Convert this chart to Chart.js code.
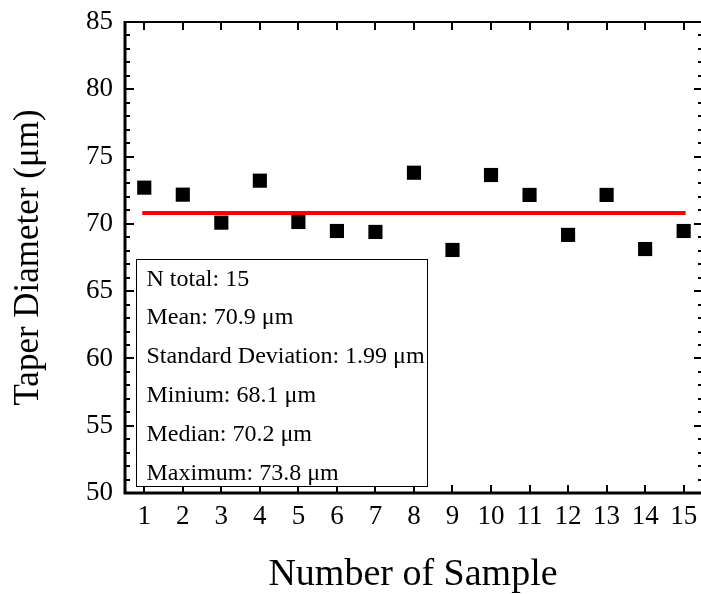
<!DOCTYPE html>
<html>
<head>
<meta charset="utf-8">
<script src="https://cdn.jsdelivr.net/npm/chart.js@4.4.1/dist/chart.umd.min.js"></script>
<style>
    html, body { margin: 0; padding: 0; background: #ffffff; }
    #wrap { width: 701px; height: 594px; }
</style>
</head>
<body>
<div id="wrap"><canvas id="taperChart" width="701" height="594"></canvas></div>
<script>
// sample number vs measured taper diameter (um)
const samples = [1, 2, 3, 4, 5, 6, 7, 8, 9, 10, 11, 12, 13, 14, 15];
const diameters = [72.69, 72.17, 70.09, 73.21, 70.14, 69.47, 69.40, 73.80, 68.06, 73.63, 72.15, 69.18, 72.15, 68.13, 69.47];

// red reference line
const meanLineX = [1, 15];
const meanLineY = 70.8;

const yTicks = [50, 55, 60, 65, 70, 75, 80, 85];
const yMinorTicks = [51, 52, 53, 54, 56, 57, 58, 59, 61, 62, 63, 64, 66, 67, 68, 69, 71, 72, 73, 74, 76, 77, 78, 79, 81, 82, 83, 84];

const statsLines = [
    "N total: 15",
    "Mean: 70.9 \u03bcm",
    "Standard Deviation: 1.99 \u03bcm",
    "Minium: 68.1 \u03bcm",
    "Median: 70.2 \u03bcm",
    "Maximum: 73.8 \u03bcm"
];

const FONT = "'Liberation Serif', 'Times New Roman', serif";

// frame, inward ticks and the statistics box
const framePlugin = {
    id: "frame",
    afterDraw(chart) {
        const ctx = chart.ctx;
        const area = chart.chartArea;
        const xs = chart.scales.x;
        const ys = chart.scales.y;
        ctx.save();
        ctx.strokeStyle = "#000";
        ctx.lineCap = "butt";

        // axis lines
        ctx.lineWidth = 3;
        ctx.beginPath();
        ctx.moveTo(area.left, area.top - 1);
        ctx.lineTo(area.left, area.bottom);
        ctx.lineTo(area.right, area.bottom);
        ctx.stroke();
        ctx.lineWidth = 2;
        ctx.beginPath();
        ctx.moveTo(area.left, area.top);
        ctx.lineTo(area.right, area.top);
        ctx.stroke();

        // x ticks, bottom and top
        ctx.lineWidth = 2;
        samples.forEach(v => {
            const px = Math.round(xs.getPixelForValue(v));
            ctx.beginPath();
            ctx.moveTo(px, area.bottom);
            ctx.lineTo(px, area.bottom - 8);
            ctx.moveTo(px, area.top);
            ctx.lineTo(px, area.top + 8);
            ctx.stroke();
        });

        // y ticks, left and right
        const rightEdge = area.right + 2;
        yTicks.forEach(v => {
            const py = Math.round(ys.getPixelForValue(v));
            ctx.beginPath();
            ctx.moveTo(area.left, py);
            ctx.lineTo(area.left + 9, py);
            ctx.moveTo(rightEdge, py);
            ctx.lineTo(rightEdge - 9, py);
            ctx.stroke();
        });
        yMinorTicks.forEach(v => {
            const py = Math.round(ys.getPixelForValue(v));
            ctx.beginPath();
            ctx.moveTo(area.left, py);
            ctx.lineTo(area.left + 5, py);
            ctx.moveTo(rightEdge, py);
            ctx.lineTo(rightEdge - 5, py);
            ctx.stroke();
        });

        // stats box
        const bx = area.left + 11.5, by = area.top + 237.5;
        const bw = 291, bh = 227;
        ctx.fillStyle = "#fff";
        ctx.fillRect(bx, by, bw, bh);
        ctx.lineWidth = 1;
        ctx.strokeRect(bx, by, bw, bh);
        ctx.fillStyle = "#000";
        ctx.font = "24px " + FONT;
        ctx.textAlign = "left";
        ctx.textBaseline = "alphabetic";
        statsLines.forEach((t, i) => {
            ctx.fillText(t, bx + 10, by + 26 + i * 38.8);
        });
        ctx.restore();
    }
};

const ctx = document.getElementById("taperChart").getContext("2d");

new Chart(ctx, {
    type: "scatter",
    data: {
        datasets: [{
            label: "Taper diameter",
            data: samples.map((s, i) => ({ x: s, y: diameters[i] })),
            pointStyle: "rect",
            pointRadius: 10,
            pointHoverRadius: 10,
            pointBorderWidth: 0,
            backgroundColor: "#000",
            borderColor: "#000",
            order: 1
        }, {
            type: "line",
            label: "Mean",
            data: meanLineX.map(x => ({ x: x, y: meanLineY })),
            borderColor: "#ff0000",
            borderWidth: 4,
            borderCapStyle: "square",
            pointRadius: 0,
            fill: false,
            order: 2
        }]
    },
    options: {
        responsive: false,
        animation: false,
        layout: { autoPadding: false, padding: { top: 22, left: 0, right: 0, bottom: 0 } },
        plugins: {
            legend: { display: false },
            tooltip: { enabled: false }
        },
        scales: {
            x: {
                type: "linear",
                min: 0.5,
                max: 15.45,
                afterBuildTicks: s => { s.ticks = samples.map(v => ({ value: v })); },
                afterFit: s => {
                    s.height = 101;
                    s.paddingLeft = 0;
                    s.paddingRight = 0;
                },
                grid: { display: false, drawTicks: false },
                border: { display: false },
                ticks: {
                    color: "#000",
                    font: { family: FONT, size: 27 },
                    padding: 8,
                    maxRotation: 0,
                    autoSkip: false
                },
                title: {
                    display: true,
                    text: "Number of Sample",
                    color: "#000",
                    font: { family: FONT, size: 38, lineHeight: 1 },
                    padding: { top: 0, bottom: 0 }
                }
            },
            y: {
                min: 50,
                max: 85,
                afterBuildTicks: s => { s.ticks = yTicks.map(v => ({ value: v })); },
                afterFit: s => {
                    s.width = 125;
                    s.paddingTop = 0;
                    s.paddingBottom = 0;
                },
                grid: { display: false, drawTicks: false },
                border: { display: false },
                ticks: {
                    color: "#000",
                    font: { family: FONT, size: 27 },
                    padding: 12
                },
                title: {
                    display: true,
                    text: "Taper Diameter (\u03bcm)",
                    color: "#000",
                    font: { family: FONT, size: 35, lineHeight: 1 },
                    padding: { top: 11, bottom: 0 }
                }
            }
        }
    },
    plugins: [framePlugin]
});
</script>
</body>
</html>
